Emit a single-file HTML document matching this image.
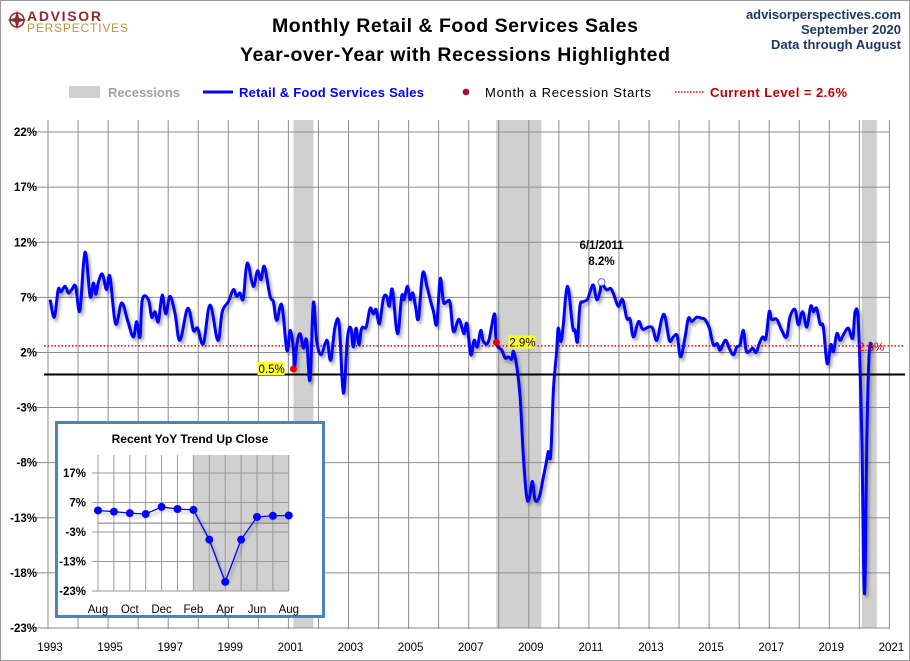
<!DOCTYPE html>
<html><head><meta charset="utf-8"><style>
html,body{margin:0;padding:0;background:#fff}
svg{display:block;font-family:"Liberation Sans",sans-serif}
</style></head><body>
<svg id="chart" width="910" height="661" viewBox="0 0 910 661" xmlns="http://www.w3.org/2000/svg">
<defs>
<filter id="sh" x="-5%" y="-5%" width="110%" height="110%"><feGaussianBlur in="SourceAlpha" stdDeviation="1.5"/><feOffset dx="2" dy="3"/><feComponentTransfer><feFuncA type="linear" slope="0.35"/></feComponentTransfer><feMerge><feMergeNode/><feMergeNode in="SourceGraphic"/></feMerge></filter>
</defs>
<rect x="0.5" y="0.5" width="909" height="660" fill="#fff" stroke="#999"/>
<g>
<circle cx="17" cy="20" r="7" fill="none" stroke="#8b2c2c" stroke-width="1.5"/>
<path d="M17 10 L19 18 L27 20 L19 22 L17 30 L15 22 L7 20 L15 18Z" fill="#8b2c2c"/>
<text x="27" y="21" font-size="14" font-weight="bold" fill="#8b2c2c" textLength="74">ADVISOR</text>
<text x="27" y="32" font-size="12" fill="#b8963e" textLength="101">PERSPECTIVES</text>
</g>
<text x="455" y="32" text-anchor="middle" font-size="19.5" font-weight="bold" fill="#000" textLength="366">Monthly Retail &amp; Food Services Sales</text>
<text x="455" y="61" text-anchor="middle" font-size="19.5" font-weight="bold" fill="#000" textLength="430">Year-over-Year with Recessions Highlighted</text>
<g font-size="13" font-weight="bold" fill="#1f3864" text-anchor="end">
<text x="901" y="19" textLength="155">advisorperspectives.com</text>
<text x="901" y="34" textLength="100">September 2020</text>
<text x="901" y="49" textLength="130">Data through August</text>
</g>
<g>
<rect x="69" y="86" width="31" height="12" fill="#d0d0d0"/>
<text x="108" y="97" font-size="13" font-weight="bold" fill="#a0a0a0" textLength="72">Recessions</text>
<line x1="203" y1="92" x2="233" y2="92" stroke="#0000ff" stroke-width="3"/>
<text x="239" y="97" font-size="13" font-weight="bold" fill="#0000ff" textLength="185">Retail &amp; Food Services Sales</text>
<circle cx="466" cy="92" r="3" fill="#cc0000" stroke="#3333cc" stroke-width="0.8"/>
<text x="485" y="97" font-size="13" fill="#000" textLength="166">Month a Recession Starts</text>
<line x1="675" y1="92" x2="705" y2="92" stroke="#ff0000" stroke-width="1.5" stroke-dasharray="1.5,1.5"/>
<text x="710" y="97" font-size="13" font-weight="bold" fill="#c00000" textLength="137">Current Level = 2.6%</text>
</g>
<g id="plot"></g>
<g id="inset"></g>
</svg>
<script>
const dates=[1993.07,1993.21,1993.34,1993.43,1993.57,1993.68,1993.79,1993.92,1994.06,1994.23,1994.40,1994.51,1994.59,1994.68,1994.81,1994.95,1995.06,1995.25,1995.45,1995.65,1995.84,1995.95,1996.06,1996.14,1996.34,1996.45,1996.56,1996.67,1996.80,1996.92,1997.06,1997.23,1997.39,1997.65,1997.84,1997.98,1998.17,1998.39,1998.65,1998.80,1999.00,1999.17,1999.28,1999.39,1999.50,1999.63,1999.83,1999.97,2000.09,2000.20,2000.39,2000.50,2000.61,2000.78,2000.95,2001.06,2001.17,2001.20,2001.28,2001.39,2001.50,2001.61,2001.72,2001.83,2001.94,2002.08,2002.22,2002.30,2002.41,2002.55,2002.69,2002.83,2002.97,2003.08,2003.16,2003.25,2003.35,2003.44,2003.59,2003.72,2003.83,2003.92,2004.03,2004.16,2004.27,2004.36,2004.46,2004.63,2004.77,2004.85,2004.96,2005.05,2005.14,2005.23,2005.33,2005.47,2005.61,2005.72,2005.83,2005.94,2006.05,2006.16,2006.27,2006.38,2006.49,2006.66,2006.77,2006.85,2006.94,2007.07,2007.18,2007.29,2007.40,2007.49,2007.66,2007.86,2007.92,2008.10,2008.21,2008.32,2008.43,2008.49,2008.60,2008.71,2008.82,2008.93,2009.02,2009.12,2009.21,2009.35,2009.48,2009.59,2009.65,2009.73,2009.82,2009.93,2009.98,2010.07,2010.15,2010.24,2010.32,2010.46,2010.54,2010.62,2010.70,2010.81,2010.95,2011.04,2011.15,2011.26,2011.37,2011.42,2011.59,2011.72,2011.81,2011.98,2012.12,2012.26,2012.37,2012.48,2012.65,2012.79,2012.98,2013.12,2013.26,2013.42,2013.53,2013.68,2013.81,2013.94,2014.05,2014.20,2014.31,2014.42,2014.59,2014.75,2014.86,2015.01,2015.14,2015.27,2015.36,2015.47,2015.56,2015.67,2015.81,2015.92,2016.03,2016.14,2016.23,2016.34,2016.45,2016.56,2016.67,2016.78,2016.89,2017.00,2017.08,2017.25,2017.42,2017.58,2017.69,2017.86,2017.97,2018.11,2018.25,2018.38,2018.47,2018.58,2018.69,2018.80,2018.93,2019.05,2019.14,2019.25,2019.36,2019.47,2019.63,2019.78,2019.86,2019.97,2020.08,2020.17,2020.25,2020.33,2020.42,2020.50,2020.58];
const values=[6.8,5.2,7.7,7.5,8.0,7.4,7.7,8.0,5.8,11.1,7.1,8.3,7.3,8.4,9.1,7.7,8.9,4.6,6.5,4.9,3.4,4.8,3.4,6.8,6.8,5.2,5.7,4.8,7.2,5.5,7.1,5.5,3.1,6.0,4.0,4.2,2.8,6.3,3.1,5.7,6.6,7.7,7.1,7.4,6.9,10.1,8.0,9.4,8.6,9.8,7.1,6.6,4.9,6.3,2.2,4.0,2.2,0.5,2.7,3.7,2.4,3.1,-0.5,6.5,3.1,1.8,2.8,3.0,1.3,4.3,4.5,-1.7,3.4,4.2,2.5,4.2,2.7,4.2,4.3,6.0,5.5,5.9,4.6,6.9,7.1,6.2,7.7,3.7,7.1,6.8,8.0,6.8,7.4,6.2,5.1,9.2,8.0,6.8,5.7,4.6,8.7,6.6,6.6,6.5,3.9,5.0,4.3,3.7,4.6,1.8,3.1,2.5,4.0,3.0,3.0,5.5,2.9,2.2,1.5,1.6,1.4,2.1,0.7,-2.0,-7.5,-11.1,-11.2,-9.7,-11.4,-11.1,-9.4,-7.9,-7.0,-7.3,-1.4,2.2,4.2,3.0,4.6,7.4,7.7,4.3,4.0,3.0,6.2,6.6,6.8,7.5,8.1,6.8,7.5,8.2,7.7,7.8,7.4,6.2,6.8,5.1,5.0,3.4,4.8,4.1,4.3,4.2,3.1,5.0,5.3,3.1,3.4,3.5,1.6,3.4,5.1,4.8,5.2,5.1,5.0,4.2,2.7,2.8,2.2,2.8,3.1,2.4,1.8,2.5,2.7,4.0,2.2,2.1,2.4,2.0,2.8,3.4,3.3,5.7,5.0,5.0,4.0,3.4,5.2,5.9,4.5,5.7,4.3,6.2,5.7,6.0,4.6,4.3,1.0,2.7,2.1,3.7,3.1,3.6,4.2,3.3,5.7,4.5,-5.6,-19.9,-5.6,2.1,2.5,2.6];
const recessions=[[2001.17,2001.83],[2007.92,2009.42],[2020.08,2020.58]];
const yTicks=[22,17,12,7,2,-3,-8,-13,-18,-23];
const xTickYears=[1993,1995,1997,1999,2001,2003,2005,2007,2009,2011,2013,2015,2017,2019,2021];
const currentLevel=2.6;
const startPoints=[[2001.17,0.5,'0.5%'],[2007.92,2.9,'2.9%']];
const peak=[2011.42,8.2,'6/1/2011','8.2%'];
const insetMonths=['Aug','Sep','Oct','Nov','Dec','Jan','Feb','Mar','Apr','May','Jun','Jul','Aug'];
const insetValues=[4.3,3.9,3.4,3.1,5.5,4.8,4.5,-5.6,-19.9,-5.6,2.1,2.5,2.6];
const insetTicks=[17,7,-3,-13,-23];
const insetLabelIdx=[0,2,4,6,8,10,12];

const NS='http://www.w3.org/2000/svg';
function mk(tag,attrs,parent,text){const e=document.createElementNS(NS,tag);for(const k in attrs)e.setAttribute(k,attrs[k]);if(text!==undefined)e.textContent=text;parent.appendChild(e);return e;}
const X=t=>48+(t-1993)*30.05;
const Y=v=>374.5-v*11.02;
function smooth(pts){let d='M'+pts[0][0].toFixed(1)+' '+pts[0][1].toFixed(1);
for(let i=0;i<pts.length-1;i++){const p0=pts[i-1]||pts[i],p1=pts[i],p2=pts[i+1],p3=pts[i+2]||p2;const k=0.18;
const c1=[p1[0]+(p2[0]-p0[0])*k,p1[1]+(p2[1]-p0[1])*k],c2=[p2[0]-(p3[0]-p1[0])*k,p2[1]-(p3[1]-p1[1])*k];
d+='C'+c1[0].toFixed(1)+' '+c1[1].toFixed(1)+' '+c2[0].toFixed(1)+' '+c2[1].toFixed(1)+' '+p2[0].toFixed(1)+' '+p2[1].toFixed(1);}
return d;}
const plot=document.getElementById('plot');
const L=44,R=889,T=120,B=628;
recessions.forEach(r=>{const e=mk('rect',{x:X(r[0]),y:T,width:X(r[1])-X(r[0]),height:B-T,fill:'#d0d0d0'},plot);

});
for(let yr=1993;yr<=2021;yr++){const e=mk('line',{x1:X(yr),x2:X(yr),y1:T,y2:B+1,stroke:'#8c8c8c','stroke-width':1},plot);

}
yTicks.forEach(v=>{const e=mk('line',{x1:L-8,x2:R,y1:Y(v),y2:Y(v),stroke:'#8c8c8c','stroke-width':1},plot);


const t=mk('text',{x:37,y:Y(v)+4,'text-anchor':'end','font-size':11.5,'font-weight':'bold',fill:'#000'},plot,v+'%');

});
xTickYears.forEach(yr=>{const t=mk('text',{x:X(yr)+2,y:651,'text-anchor':'middle','font-size':11.5,fill:'#000'},plot,String(yr));

});
const z=mk('line',{x1:L,x2:R+16,y1:Y(0),y2:Y(0),stroke:'#000','stroke-width':2},plot);


const cl=mk('line',{x1:L,x2:R+16,y1:Y(currentLevel),y2:Y(currentLevel),stroke:'#ff0000','stroke-width':1.5,'stroke-dasharray':'1.5,2'},plot);


const pts=dates.map((t,i)=>[X(t),Y(values[i])]);
const p=mk('path',{d:smooth(pts),fill:'none',stroke:'#0000ff','stroke-width':3,'stroke-linejoin':'round',filter:'url(#sh)'},plot);


startPoints.forEach((s,i)=>{const c=mk('circle',{cx:X(s[0]),cy:Y(s[1]),r:3.5,fill:'#ee0000'},plot);


const lx=i==0?X(s[0])-9:X(s[0])+12;
const w=27;const bx=i==0?lx-w:lx;
mk('rect',{x:bx,y:Y(s[1])-7,width:w,height:13,fill:'#ffff33'},plot);
const t=mk('text',{x:bx+1,y:Y(s[1])+4,'font-size':11.5,fill:'#000'},plot,s[2]);

});
const pc=mk('circle',{cx:X(peak[0]),cy:Y(peak[1])-2,r:3.5,fill:'#fff',stroke:'#6666ff'},plot);


const pt1=mk('text',{x:X(peak[0]),y:Y(peak[1])-35,'text-anchor':'middle','font-size':11.5,'font-weight':'bold'},plot,peak[2]);


const pt2=mk('text',{x:X(peak[0]),y:Y(peak[1])-19,'text-anchor':'middle','font-size':11.5,'font-weight':'bold'},plot,peak[3]);


const ct=mk('text',{x:858,y:Y(currentLevel)+5,'font-size':11.5,fill:'#cc0000'},plot,currentLevel+'%');



const ins=document.getElementById('inset');
const box=mk('rect',{x:56.5,y:422.5,width:267,height:194,fill:'#fff',stroke:'#4f81bd','stroke-width':3},ins);


const ix=i=>98+i*15.9;
const iy=v=>473+(17-v)*2.95;
const iT=455,iB=591;
mk('rect',{x:ix(6),y:iT,width:ix(12)-ix(6),height:iB-iT,fill:'#d0d0d0'},ins);
for(let i=0;i<=12;i++){mk('line',{x1:ix(i),x2:ix(i),y1:iT,y2:iB,stroke:'#999','stroke-width':1},ins);}
insetTicks.forEach(v=>{mk('line',{x1:ix(0)-6,x2:ix(12),y1:iy(v),y2:iy(v),stroke:'#999'},ins);
const t=mk('text',{x:86,y:iy(v)+4,'text-anchor':'end','font-size':11.5,'font-weight':'bold'},ins,v+'%');

});
mk('line',{x1:ix(0),x2:ix(12),y1:iy(0),y2:iy(0),stroke:'#777'},ins);
let id='';insetValues.forEach((v,i)=>{id+=(i?'L':'M')+ix(i)+' '+iy(v);});
const ip=mk('path',{d:id,fill:'none',stroke:'#0000ff','stroke-width':1.3,filter:'url(#sh)'},ins);


insetValues.forEach((v,i)=>{const c=mk('circle',{cx:ix(i),cy:iy(v),r:4,fill:'#0000ff'},ins);

});
insetLabelIdx.forEach(i=>{const t=mk('text',{x:ix(i),y:613,'text-anchor':'middle','font-size':11.5},ins,insetMonths[i]);

});
const it=mk('text',{x:190,y:443,'text-anchor':'middle','font-size':12,'font-weight':'bold'},ins,'Recent  YoY Trend Up Close');


</script>
</body></html>
